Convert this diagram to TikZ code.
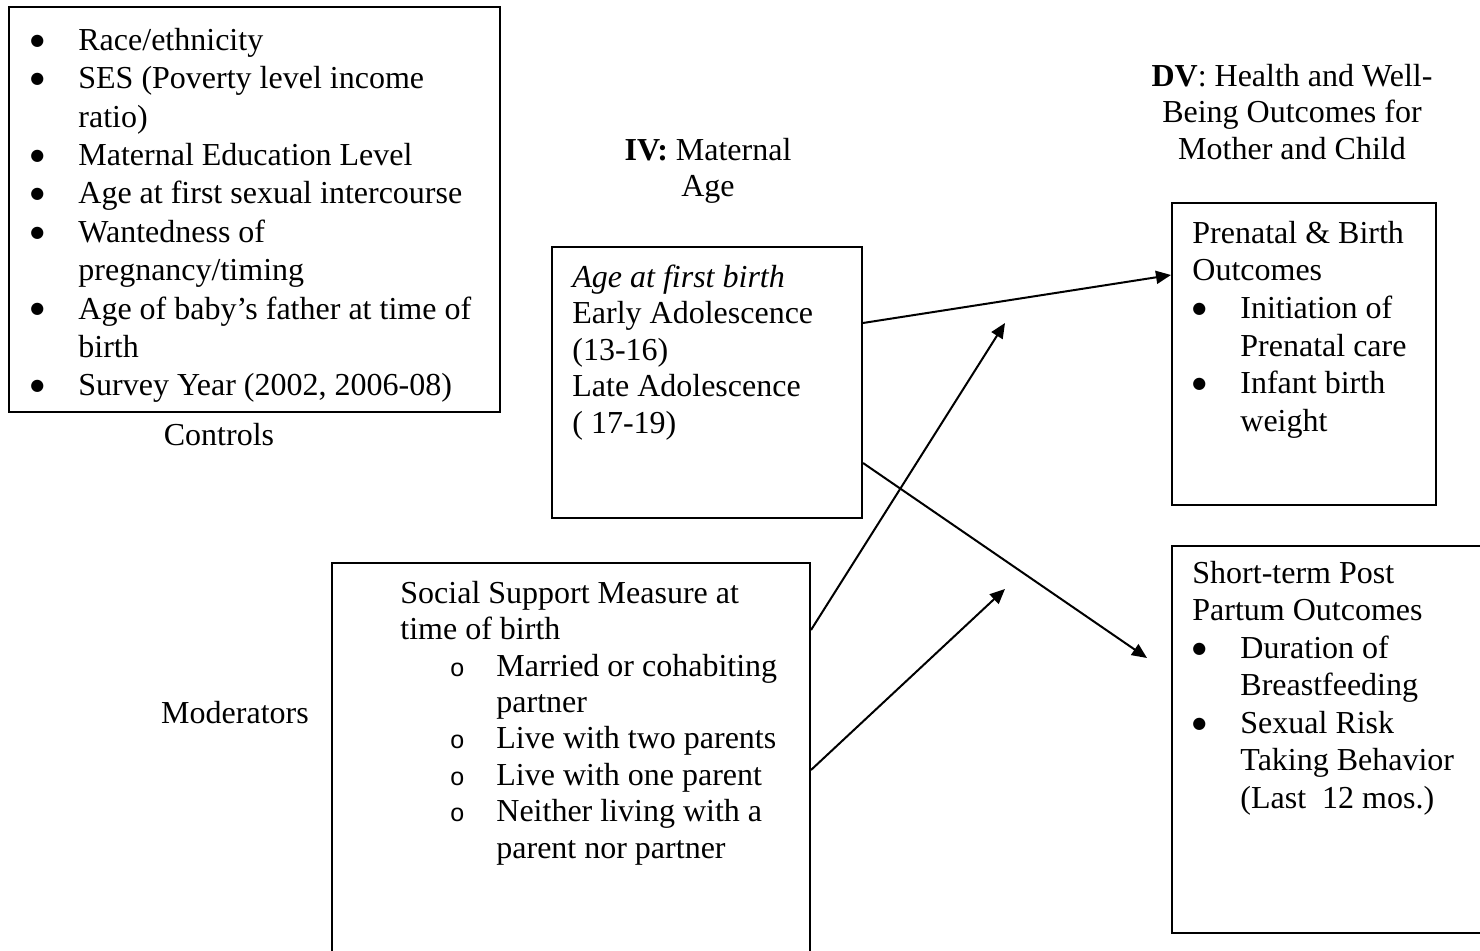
\documentclass[tikz,border=0pt]{standalone}
\usepackage{fontspec}
\setmainfont{Liberation Serif}
\newfontfamily\circfont{Liberation Sans}
\newfontfamily\dotfont{DejaVu Sans}
\usetikzlibrary{arrows.meta}
\usetikzlibrary{fit}

\begin{document}
\begin{tikzpicture}[x=0.5pt, y=-0.5pt,
  box/.style={draw, line width=1pt, inner sep=0pt},
  txt/.style={anchor=north west, inner sep=0pt, align=left},
  lbl/.style={anchor=north, inner sep=0pt, align=center},
  arr/.style={line width=1pt, -{Triangle[length=7.5pt, width=6.5pt]}}]

%─────────────
% Controls
%─────────────
\def\bulgap{24pt}  % bullet to text distance
\newcommand{\fsz}[1]{\fontsize{16}{#1}\selectfont}
\newcommand{\firstln}{\rule{0pt}{14pt}}
\newcommand{\bul}[1]{\makebox[\bulgap][l]{\raisebox{2.6pt}{\dotfont\fontsize{8}{8}\selectfont ●}}#1}
\newcommand{\cont}[1]{\hspace*{\bulgap}#1}
\newcommand{\subitm}[1]{\hspace*{25pt}\makebox[23pt][l]{\circfont\fontsize{12.5}{12.5}\selectfont o}#1}
\newcommand{\subcont}[1]{\hspace*{48pt}#1}

\useasboundingbox (0,0) rectangle (1480,951);
\clip (0,0) rectangle (1480,951);

%─────────────────────────────────────────────────────────────
% Boxes
%─────────────────────────────────────────────────────────────
\node[box, fit={(9,7) (500,412)}] (ctrl) {};
\node[box, fit={(552,247) (862,518)}] (iv) {};
\node[box, fit={(1172,203) (1436,505)}] (pre) {};
\node[box, fit={(1172,546) (1500,933)}] (post) {};
\node[box, fit={(332,563) (810,980)}] (mod) {};

%─────────────
% Box texts
%─────────────
\node[txt, font=\fsz{19.2pt}] (ctrltxt) at (30,22) {\firstln\bul{Race/ethnicity}\\
  \bul{SES (Poverty level income}\\
  \cont{ratio)}\\
  \bul{Maternal Education Level}\\
  \bul{Age at first sexual intercourse}\\
  \bul{Wantedness of}\\
  \cont{pregnancy/timing}\\
  \bul{Age of baby’s father at time of}\\
  \cont{birth}\\
  \bul{Survey Year (2002, 2006-08)}};

\node[txt, font=\fsz{18.25pt}] (ivtxt) at (572,259) {\firstln\textit{Age at first birth}\\
  Early Adolescence\\
  (13-16)\\
  Late Adolescence\\
  ( 17-19)};

\node[txt, font=\fsz{18.8pt}] (pretxt) at (1192,215) {\firstln Prenatal \& Birth\\
  Outcomes\\
  \bul{Initiation of}\\
  \cont{Prenatal care}\\
  \bul{Infant birth}\\
  \cont{weight}};

\node[txt, font=\fsz{18.75pt}] (posttxt) at (1192,555) {\firstln Short-term Post\\
  Partum Outcomes\\
  \bul{Duration of}\\
  \cont{Breastfeeding}\\
  \bul{Sexual Risk}\\
  \cont{Taking Behavior}\\
  \cont{(Last\ \ 12 mos.)}};

\node[txt, font=\fsz{18.2pt}] (modtxt) at (400,575) {\firstln Social Support Measure at\\
  time of birth\\
  \subitm{Married or cohabiting}\\
  \subcont{partner}\\
  \subitm{Live with two parents}\\
  \subitm{Live with one parent}\\
  \subitm{Neither living with a}\\
  \subcont{parent nor partner}};

%─────────────
% Labels
%─────────────
\node[lbl, font=\fsz{18pt}] (ivlbl) at (708,132) {\firstln\textbf{IV:} Maternal\\Age};
\node[lbl, font=\fsz{18.25pt}] (dvlbl) at (1292,58) {\firstln\textbf{DV}: Health and Well-\\
  Being Outcomes for\\Mother and Child};
\node[lbl, font=\fsz{18pt}] (ctrllbl) at (219,417) {\firstln Controls};
\node[lbl, font=\fsz{18pt}] (modlbl) at (235,695) {\firstln Moderators};

%─────────────
% Arrows
%─────────────
\coordinate (postin) at (1147,658);
\coordinate (modtipA) at (1005,323);
\coordinate (modtipB) at (1005,589);

\draw[arr] (iv.east |- 0,323) -- (pre.west |- 0,275);
\draw[arr] (iv.east |- 0,463) -- (postin);
\draw[arr] (mod.east |- 0,630) -- (modtipA);
\draw[arr] (mod.east |- 0,770) -- (modtipB);

\end{tikzpicture}
\end{document}
